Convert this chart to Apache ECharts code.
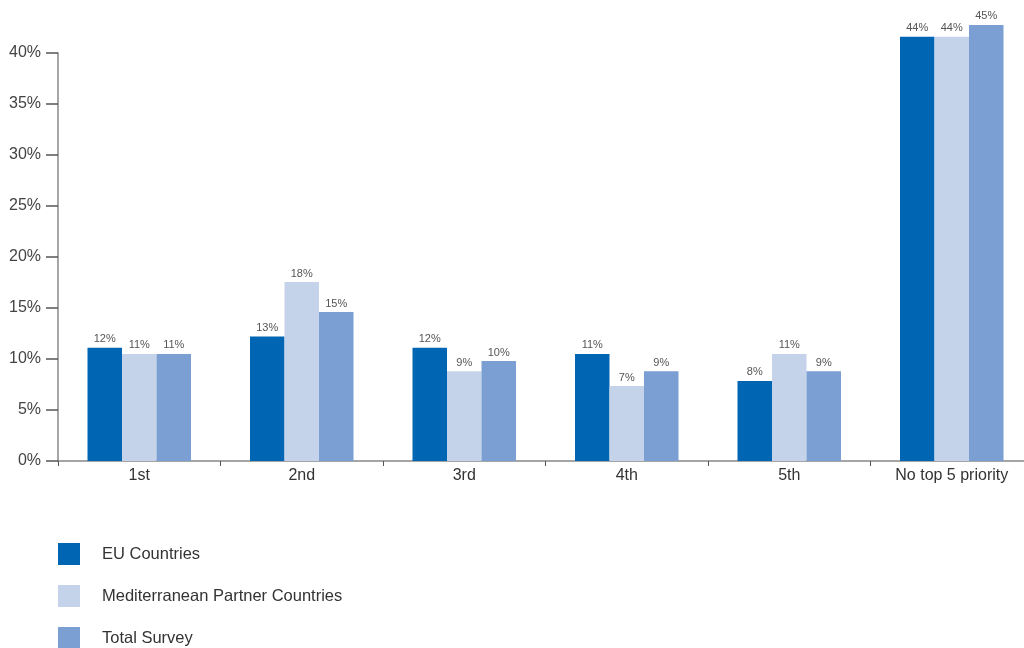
<!DOCTYPE html>
<html>
<head>
<meta charset="utf-8">
<script src="https://cdn.jsdelivr.net/npm/echarts@6/dist/echarts.min.js"></script>
<style>html,body{margin:0;padding:0;background:#fff;overflow:hidden}#c{width:1040px;height:648px}</style>
</head>
<body>
<div id="c"></div>
<script>
const categories = ['1st', '2nd', '3rd', '4th', '5th', 'No top 5 priority'];
const seriesNames = ['EU Countries', 'Mediterranean Partner Countries', 'Total Survey'];
const euValues = [11.1, 12.2, 11.1, 10.5, 7.85, 41.6];
const mpcValues = [10.5, 17.55, 8.8, 7.35, 10.5, 41.6];
const totalValues = [10.5, 14.6, 9.8, 8.8, 8.8, 42.75];
const euLabels = ['12%', '13%', '12%', '11%', '8%', '44%'];
const mpcLabels = ['11%', '18%', '9%', '7%', '11%', '44%'];
const totalLabels = ['11%', '15%', '10%', '9%', '9%', '45%'];
const yTicks = [0, 5, 10, 15, 20, 25, 30, 35, 40];

const colors = ['#0066b3', '#c5d3ea', '#7b9fd2'];
const font = '"Liberation Sans", Arial, Helvetica, sans-serif';

function mk(name, values, labels, color) {
  return {
    name: name,
    type: 'bar',
    data: values,
    barWidth: 34.5,
    barGap: '0%',
    clip: false,
    itemStyle: { color: color },
    label: {
      show: true,
      position: 'top',
      distance: 3,
      color: '#555',
      fontSize: 11,
      fontFamily: font,
      formatter: p => labels[p.dataIndex]
    }
  };
}

const chart = echarts.init(document.getElementById('c'), null, { renderer: 'canvas' });
chart.setOption({
  animation: false,
  textStyle: { fontFamily: font },
  grid: { left: 58, top: 53, width: 975, height: 408, containLabel: false },
  legend: {
    orient: 'vertical',
    left: 58,
    top: 543,
    height: 110,
    padding: 0,
    icon: 'rect',
    itemWidth: 22,
    itemHeight: 22,
    itemGap: 20,
    data: seriesNames,
    textStyle: { color: '#333', fontSize: 16.5, fontFamily: font, padding: [2, 0, 0, 17] }
  },
  xAxis: {
    type: 'category',
    data: categories,
    axisLine: { lineStyle: { color: '#888', width: 1.5 } },
    axisTick: { show: true, length: 5, lineStyle: { color: '#555', width: 1 } },
    axisLabel: { color: '#333', fontSize: 16, margin: 7, fontFamily: font }
  },
  yAxis: {
    type: 'value',
    min: 0,
    max: 40,
    interval: 5,
    splitLine: { show: false },
    axisLine: { show: true, lineStyle: { color: '#888', width: 1.5 } },
    axisTick: { show: true, length: 12, lineStyle: { color: '#555', width: 1.5 } },
    axisLabel: {
      color: '#444', fontSize: 16, margin: 17, fontFamily: font,
      formatter: v => (yTicks.indexOf(v) >= 0 ? v + '%' : '')
    }
  },
  series: [
    mk(seriesNames[0], euValues, euLabels, colors[0]),
    mk(seriesNames[1], mpcValues, mpcLabels, colors[1]),
    mk(seriesNames[2], totalValues, totalLabels, colors[2])
  ]
});
</script>
</body>
</html>
